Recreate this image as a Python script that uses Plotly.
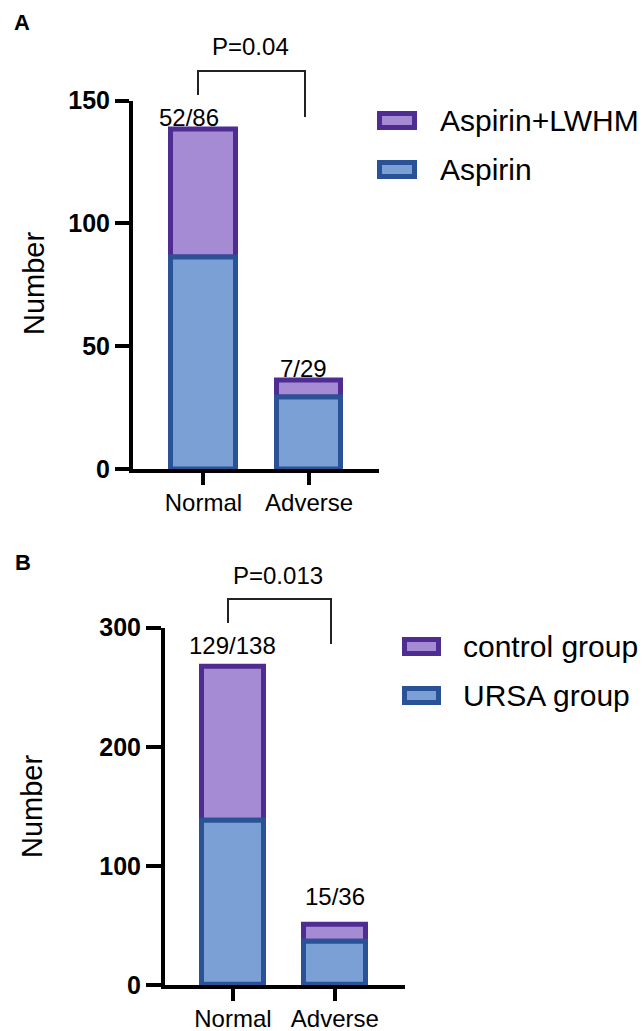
import plotly.graph_objects as go

# ---- data -------------------------------------------------------------
categories = ["Normal", "Adverse"]

# Panel A: aspirin alone vs aspirin + LWHM
a_aspirin = [86, 29]
a_lwhm = [52, 7]
a_pvalue = "P=0.04"
a_ticks = [0, 50, 100, 150]

# Panel B: URSA group vs control group
b_ursa = [138, 36]
b_control = [129, 15]
b_pvalue = "P=0.013"
b_ticks = [0, 100, 200, 300]

# ---- styling ----------------------------------------------------------
W, H = 643, 1031
FONT = "Liberation Sans, Arial, Helvetica, sans-serif"
PURPLE = "#A58BD4"
PURPLE_EDGE = "#4F2C92"
BLUE = "#7BA0D5"
BLUE_EDGE = "#2A5397"
BAR_W = 0.61
EDGE_W = 5


def px(x):
    return x / W


def py(y):
    return 1 - y / H


fig = go.Figure()


def add_panel(xa, ya, bottom_vals, top_vals, bottom_name, top_name):
    # top segment first so the bottom segment's border sits on the seam
    fig.add_trace(go.Bar(
        x=categories, y=top_vals, base=bottom_vals, name=top_name,
        width=BAR_W, xaxis=xa, yaxis=ya, showlegend=False,
        marker=dict(color=PURPLE, line=dict(color=PURPLE_EDGE, width=EDGE_W)),
    ))
    fig.add_trace(go.Bar(
        x=categories, y=bottom_vals, name=bottom_name,
        width=BAR_W, xaxis=xa, yaxis=ya, showlegend=False,
        marker=dict(color=BLUE, line=dict(color=BLUE_EDGE, width=EDGE_W)),
    ))


add_panel("x", "y", a_aspirin, a_lwhm, "Aspirin", "Aspirin+LWHM")
add_panel("x2", "y2", b_ursa, b_control, "URSA group", "control group")


def xaxis_style(domain, rng, anchor):
    return dict(
        domain=domain, range=rng, anchor=anchor, type="category",
        automargin=False,
        showline=True, linecolor="black", linewidth=4,
        ticks="outside", ticklen=12, tickwidth=4, tickcolor="black",
        ticklabelstandoff=-3,
        tickfont=dict(family=FONT, size=24, color="black"),
        showgrid=False, zeroline=False, fixedrange=True,
    )


def yaxis_style(domain, rng, tickvals, anchor, ticklen):
    return dict(
        domain=domain, range=rng, anchor=anchor, automargin=False,
        tickvals=tickvals, ticktext=[str(v) for v in tickvals],
        showline=True, linecolor="black", linewidth=4,
        ticks="outside", ticklen=ticklen, tickwidth=4, tickcolor="black",
        tickfont=dict(family=FONT, size=25, color="black", weight="bold"),
        showgrid=False, zeroline=False, fixedrange=True,
    )


fig.update_layout(
    width=W, height=H, autosize=False,
    margin=dict(l=0, r=0, t=0, b=0, pad=0),
    paper_bgcolor="white", plot_bgcolor="white",
    barmode="overlay", bargap=0,
    xaxis=xaxis_style([px(133), px(379)], [-0.667, 1.662], "y"),
    yaxis=yaxis_style([py(469), py(100.5)], [0, 150], a_ticks, "x", 14),
    xaxis2=xaxis_style([px(165), px(405)], [-0.666, 1.688], "y2"),
    yaxis2=yaxis_style([py(985), py(627.7)], [0, 300], b_ticks, "x2", 15),
)

annotations = []
shapes = []

# value labels above each stacked bar: "top/bottom"
def value_labels(xa, ya, bottom_vals, top_vals, shifts):
    for i, cat in enumerate(categories):
        dx, dy = shifts[i]
        annotations.append(dict(
            x=cat, y=bottom_vals[i] + top_vals[i], xref=xa, yref=ya,
            text=f"{top_vals[i]}/{bottom_vals[i]}", showarrow=False,
            xanchor="center", yanchor="middle", xshift=dx, yshift=dy,
            font=dict(family=FONT, size=24, color="black"),
        ))


value_labels("x", "y", a_aspirin, a_lwhm, [(-14, 12), (-6, 12)])
value_labels("x2", "y2", b_ursa, b_control, [(0, 22), (0, 28)])


def text(x, y, s, size, bold=False, angle=0, xanchor="center"):
    annotations.append(dict(
        x=px(x), y=py(y), xref="paper", yref="paper", text=s,
        showarrow=False, xanchor=xanchor, yanchor="middle", textangle=angle,
        font=dict(family=FONT, size=size, color="black",
                  weight="bold" if bold else "normal"),
    ))


# panel letters
text(22, 22, "A", 22, bold=True)
text(23, 562, "B", 22, bold=True)

# axis titles
text(34, 284, "Number", 29, angle=-90)
text(32, 807, "Number", 29, angle=-90)

# significance brackets
text(250, 46.5, a_pvalue, 24)
text(278, 575, b_pvalue, 24)


def bracket(xl, yl, xr, yr, ytop):
    path = (f"M{px(xl)},{py(yl)} L{px(xl)},{py(ytop)} "
            f"L{px(xr)},{py(ytop)} L{px(xr)},{py(yr)}")
    shapes.append(dict(type="path", path=path, xref="paper", yref="paper",
                       line=dict(color="#222222", width=2)))


bracket(198, 95, 305, 117, 71)
bracket(228, 623, 331, 644, 599)


# legends: framed swatch + label
def legend_item(x0, y0, x1, y1, fill, edge, label, tx):
    inset = EDGE_W / 2
    shapes.append(dict(
        type="rect", xref="paper", yref="paper",
        x0=px(x0 + inset), x1=px(x1 - inset),
        y0=py(y1 - inset), y1=py(y0 + inset),
        fillcolor=fill, line=dict(color=edge, width=EDGE_W),
    ))
    text(tx, (y0 + y1) / 2, label, 30, xanchor="left")


legend_item(377, 111, 417, 130, PURPLE, PURPLE_EDGE, "Aspirin+LWHM", 438)
legend_item(377, 160, 417, 179, BLUE, BLUE_EDGE, "Aspirin", 438)
legend_item(402, 637, 441, 656, PURPLE, PURPLE_EDGE, "control group", 461)
legend_item(402, 686, 441, 705, BLUE, BLUE_EDGE, "URSA group", 461)

fig.update_layout(annotations=annotations, shapes=shapes)

fig.write_html("out.html")
